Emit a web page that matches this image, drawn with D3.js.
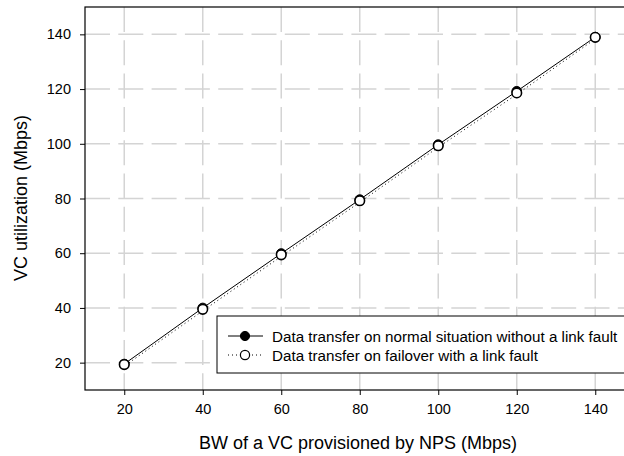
<!DOCTYPE html>
<html><head><meta charset="utf-8">
<script src="https://cdn.jsdelivr.net/npm/d3@7"></script>
<style>body{margin:0;background:#fff}svg{display:block;font-family:"Liberation Sans",Arial,sans-serif}</style>
</head><body>
<svg id="c" width="624" height="456"></svg>
<script>
const bandwidth = [20, 40, 60, 80, 100, 120, 140];
const normalUtil = [19.5, 40.0, 59.9, 79.6, 99.7, 119.2, 139.0];
const failoverUtil = [19.3, 39.5, 59.4, 79.2, 99.3, 118.6, 138.9];
const xTicks = [20, 40, 60, 80, 100, 120, 140];
const yTicks = [20, 40, 60, 80, 100, 120, 140];
const seriesNames = ["Data transfer on normal situation without a link fault", "Data transfer on failover with a link fault"];

const svg = d3.select("#c");
const L = 85, T = 7, B = 390;
const x = d3.scaleLinear().domain([10, 150]).range([L, L + 140 * 3.925]);
const y = d3.scaleLinear().domain([10, 150]).range([B, T]);

// grid
const grid = svg.append("g").attr("stroke", "#d4d4d4").attr("stroke-width", 1.5).attr("stroke-dasharray", "25,8.3");
grid.selectAll("line.h").data(yTicks).join("line").attr("class","h")
  .attr("x1", x(10)).attr("x2", x(150)).attr("y1", d => y(d)).attr("y2", d => y(d));
grid.selectAll("line.v").data(xTicks).join("line").attr("class","v")
  .attr("y1", y(150)).attr("y2", y(10)).attr("x1", d => x(d)).attr("x2", d => x(d));

// frame
svg.append("rect").attr("x", x(10)).attr("y", y(150)).attr("width", x(150) - x(10)).attr("height", y(10) - y(150))
  .attr("fill", "none").attr("stroke", "#000").attr("stroke-width", 1.2);

// axes
const xa = svg.append("g").attr("transform", `translate(0,${B})`)
  .call(d3.axisBottom(x).tickValues(xTicks).tickSize(5).tickPadding(9));
const ya = svg.append("g").attr("transform", `translate(${L},0)`)
  .call(d3.axisLeft(y).tickValues(yTicks).tickSize(5).tickPadding(9));
[xa, ya].forEach(a => {
  a.select(".domain").remove();
  a.selectAll("line").attr("stroke", "#000");
  a.selectAll("text").attr("font-size", 14.5).attr("fill", "#000").attr("font-family", "Liberation Sans, Arial, sans-serif");
});

// lines
const pts1 = bandwidth.map((b, i) => [b, normalUtil[i]]);
const pts2 = bandwidth.map((b, i) => [b, failoverUtil[i]]);
const line = d3.line().x(d => x(d[0])).y(d => y(d[1]));
svg.append("path").attr("d", line(pts2)).attr("fill", "none").attr("stroke", "#000").attr("stroke-width", 1).attr("stroke-dasharray", "1,3").attr("transform","translate(1.5,0.5)");
svg.append("path").attr("d", line(pts1)).attr("fill", "none").attr("stroke", "#000").attr("stroke-width", 1);
svg.selectAll("circle.n").data(pts1).join("circle").attr("class","n")
  .attr("cx", d => x(d[0])).attr("cy", d => y(d[1])).attr("r", 4.8).attr("fill", "#000").attr("stroke", "#000");
svg.selectAll("circle.f").data(pts2).join("circle").attr("class","f")
  .attr("cx", d => x(d[0])).attr("cy", d => y(d[1])).attr("r", 4.8).attr("fill", "#fff").attr("stroke", "#000").attr("stroke-width", 1.6);

// axis titles
svg.append("text").attr("x", 358).attr("y", 449).attr("text-anchor", "middle").attr("font-size", 18).text("BW of a VC provisioned by NPS (Mbps)");
svg.append("text").attr("transform", "translate(27,198) rotate(-90)").attr("text-anchor", "middle").attr("font-size", 18).text("VC utilization (Mbps)");

// legend
const lg = svg.append("g");
lg.append("rect").attr("x", 217).attr("y", 316).attr("width", 420).attr("height", 57).attr("fill", "#fff").attr("stroke", "#000").attr("stroke-width", 1);
[0, 1].forEach(i => {
  const yy = 336 + i * 19;
  lg.append("line").attr("x1", 228).attr("x2", 263).attr("y1", yy).attr("y2", yy).attr("stroke", "#000")
    .attr("stroke-dasharray", i ? "1,3" : null);
  lg.append("circle").attr("cx", 245).attr("cy", yy).attr("r", 4.6).attr("fill", i ? "#fff" : "#000").attr("stroke", "#000").attr("stroke-width", i ? 1.2 : 1);
  lg.append("text").attr("x", 272).attr("y", yy + 5.5).attr("font-size", 15.2).text(seriesNames[i]);
});
</script>
</body></html>
